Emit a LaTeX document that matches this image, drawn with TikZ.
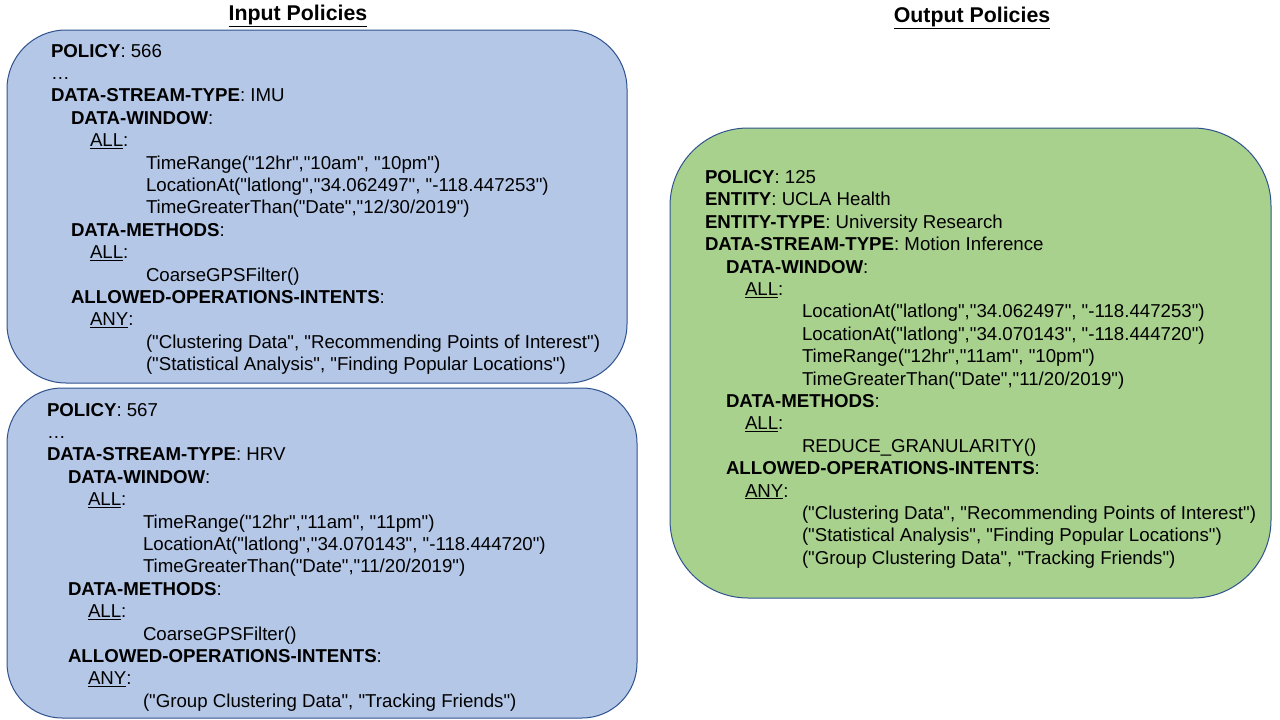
\documentclass[tikz,border=0pt]{standalone}
\usepackage{fontspec}
\newfontfamily\arialfam{Liberation Sans}
\definecolor{bluefill}{HTML}{B4C7E7}
\definecolor{greenfill}{HTML}{A9D18E}
\definecolor{edgeblue}{HTML}{2F528F}
\tikzset{
  box/.style={draw=edgeblue, line width=1pt},
  ln/.style={anchor=base west, inner sep=0pt, outer sep=0pt, font=\arialfam\fontsize{18.67}{22.4}\selectfont},
  ttl/.style={anchor=base, inner sep=0pt, font=\arialfam\fontsize{21.33}{25}\selectfont\bfseries}
}
\begin{document}
\begin{tikzpicture}[x=1pt,y=1pt]
\useasboundingbox (0,0) rectangle (1280,-720);
% boxes
\draw[box, fill=bluefill, rounded corners=59pt] (7,-30) rectangle (627,-383);
\draw[box, fill=bluefill, rounded corners=55pt] (7,-388) rectangle (637,-718);
\draw[box, fill=greenfill, rounded corners=78pt] (670,-128) rectangle (1271,-598);
% titles
\node[ttl] (tin) at (298,-20) {\underline{Input Policies}};
\node[ttl] (tout) at (972,-22) {\underline{Output Policies}};
% box 1
\def\d{22.4}
\node[ln] (a0) at (51,-57) {\textbf{POLICY}: 566};
\node[ln] (a1) at (51,-57-1*\d) {…};
\node[ln] (a2) at (51,-57-2*\d) {\textbf{DATA-STREAM-TYPE}: IMU};
\node[ln] (a3) at (71,-57-3*\d) {\textbf{DATA-WINDOW}:};
\node[ln] (a4) at (90,-57-4*\d) {\underline{ALL}:};
\node[ln] (a5) at (146,-57-5*\d) {TimeRange("12hr","10am", "10pm")};
\node[ln] (a6) at (146,-57-6*\d) {LocationAt("latlong","34.062497", "-118.447253")};
\node[ln] (a7) at (146,-57-7*\d) {TimeGreaterThan("Date","12/30/2019")};
\node[ln] (a8) at (71,-57-8*\d) {\textbf{DATA-METHODS}:};
\node[ln] (a9) at (90,-57-9*\d) {\underline{ALL}:};
\node[ln] (a10) at (146,-57-10*\d) {CoarseGPSFilter()};
\node[ln] (a11) at (71,-57-11*\d) {\textbf{ALLOWED-OPERATIONS-INTENTS}:};
\node[ln] (a12) at (90,-57-12*\d) {\underline{ANY}:};
\node[ln] (a13) at (146,-57-13*\d) {("Clustering Data", "Recommending Points of Interest")};
\node[ln] (a14) at (146,-57-14*\d) {("Statistical Analysis", "Finding Popular Locations")};
% box 2
\node[ln] (b0) at (47,-416) {\textbf{POLICY}: 567};
\node[ln] (b1) at (47,-416-1*\d) {…};
\node[ln] (b2) at (47,-416-2*\d) {\textbf{DATA-STREAM-TYPE}: HRV};
\node[ln] (b3) at (68,-416-3*\d) {\textbf{DATA-WINDOW}:};
\node[ln] (b4) at (88,-416-4*\d) {\underline{ALL}:};
\node[ln] (b5) at (143,-416-5*\d) {TimeRange("12hr","11am", "11pm")};
\node[ln] (b6) at (143,-416-6*\d) {LocationAt("latlong","34.070143", "-118.444720")};
\node[ln] (b7) at (143,-416-7*\d) {TimeGreaterThan("Date","11/20/2019")};
\node[ln] (b8) at (68,-416-8*\d) {\textbf{DATA-METHODS}:};
\node[ln] (b9) at (88,-416-9*\d) {\underline{ALL}:};
\node[ln] (b10) at (143,-416-10*\d) {CoarseGPSFilter()};
\node[ln] (b11) at (68,-416-11*\d) {\textbf{ALLOWED-OPERATIONS-INTENTS}:};
\node[ln] (b12) at (88,-416-12*\d) {\underline{ANY}:};
\node[ln] (b13) at (143,-416-13*\d) {("Group Clustering Data", "Tracking Friends")};
% box 3
\node[ln] (c0) at (705,-183.5) {\textbf{POLICY}: 125};
\node[ln] (c1) at (705,-183.5-1*\d) {\textbf{ENTITY}: UCLA Health};
\node[ln] (c2) at (705,-183.5-2*\d) {\textbf{ENTITY-TYPE}: University Research};
\node[ln] (c3) at (705,-183.5-3*\d) {\textbf{DATA-STREAM-TYPE}: Motion Inference};
\node[ln] (c4) at (726,-183.5-4*\d) {\textbf{DATA-WINDOW}:};
\node[ln] (c5) at (745,-183.5-5*\d) {\underline{ALL}:};
\node[ln] (c6) at (802,-183.5-6*\d) {LocationAt("latlong","34.062497", "-118.447253")};
\node[ln] (c7) at (802,-183.5-7*\d) {LocationAt("latlong","34.070143", "-118.444720")};
\node[ln] (c8) at (802,-183.5-8*\d) {TimeRange("12hr","11am", "10pm")};
\node[ln] (c9) at (802,-183.5-9*\d) {TimeGreaterThan("Date","11/20/2019")};
\node[ln] (c10) at (726,-183.5-10*\d) {\textbf{DATA-METHODS}:};
\node[ln] (c11) at (745,-183.5-11*\d) {\underline{ALL}:};
\node[ln] (c12) at (802,-183.5-12*\d) {REDUCE\_GRANULARITY()};
\node[ln] (c13) at (726,-183.5-13*\d) {\textbf{ALLOWED-OPERATIONS-INTENTS}:};
\node[ln] (c14) at (745,-183.5-14*\d) {\underline{ANY}:};
\node[ln] (c15) at (802,-183.5-15*\d) {("Clustering Data", "Recommending Points of Interest")};
\node[ln] (c16) at (802,-183.5-16*\d) {("Statistical Analysis", "Finding Popular Locations")};
\node[ln] (c17) at (802,-183.5-17*\d) {("Group Clustering Data", "Tracking Friends")};
\end{tikzpicture}
\end{document}
